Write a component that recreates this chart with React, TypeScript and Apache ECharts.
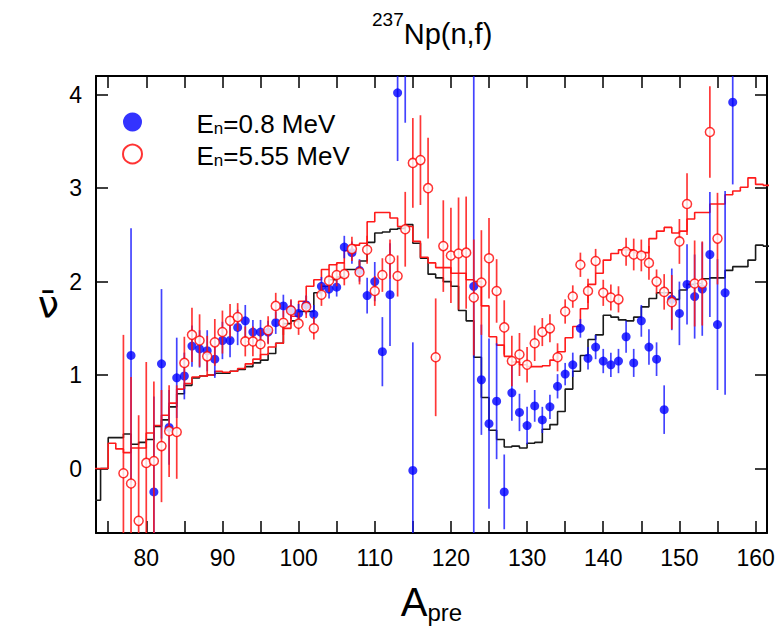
import { useEffect, useRef } from 'react';
import * as echarts from 'echarts';

// ---- axis ticks / labels ----
const X_MIN = 73.4;
const X_MAX = 161.5;
const Y_MIN = -0.69;
const Y_MAX = 4.2;
const xTickValues = [75, 80, 85, 90, 95, 100, 105, 110, 115, 120, 125, 130, 135, 140, 145, 150, 155, 160];
const xLabelValues = [80, 90, 100, 110, 120, 130, 140, 150, 160];
const yTickValues = [0, 1, 2, 3, 4];

// ---- calculated step curves: value held on [A, A+1) ----
const calcA = [
  73, 74, 75, 76, 77, 78, 79, 80, 81, 82, 83, 84, 85, 86, 87, 88, 89, 90, 91, 92,
  93, 94, 95, 96, 97, 98, 99, 100, 101, 102, 103, 104, 105, 106, 107, 108, 109, 110, 111, 112,
  113, 114, 115, 116, 117, 118, 119, 120, 121, 122, 123, 124, 125, 126, 127, 128, 129, 130, 131, 132,
  133, 134, 135, 136, 137, 138, 139, 140, 141, 142, 143, 144, 145, 146, 147, 148, 149, 150, 151, 152,
  153, 154, 155, 156, 157, 158, 159, 160, 161, 162,
];
const calcLow = [
  -0.34, 0.0, 0.33, 0.33, 0.37, 0.26, 0.28, 0.31, 0.45, 0.52,
  0.66, 0.80, 0.89, 0.97, 0.99, 1.00, 1.02, 1.02, 1.04, 1.06,
  1.09, 1.13, 1.16, 1.23, 1.34, 1.55, 1.58, 1.68, 1.68, 1.88,
  1.95, 2.02, 2.05, 2.13, 2.13, 2.22, 2.42, 2.52, 2.53, 2.56,
  2.57, 2.61, 2.41, 2.25, 2.08, 2.04, 2.00, 1.95, 1.69, 1.58,
  1.19, 0.76, 0.41, 0.31, 0.23, 0.24, 0.22, 0.27, 0.28, 0.42,
  0.47, 0.61, 0.85, 1.04, 1.21, 1.38, 1.43, 1.64, 1.62, 1.59,
  1.58, 1.62, 1.73, 1.82, 1.88, 1.88, 1.81, 1.91, 1.97, 1.98,
  2.03, 2.04, 2.04, 2.12, 2.16, 2.16, 2.23, 2.39, 2.38, 2.38,
];
const calcHigh = [
  0.0, 0.0, 0.27, 0.21, 0.17, 0.22, 0.22, 0.38, 0.46, 0.57,
  0.70, 0.85, 0.91, 0.98, 0.99, 1.00, 1.04, 1.03, 1.04, 1.07,
  1.12, 1.17, 1.22, 1.30, 1.34, 1.50, 1.63, 1.79, 1.95, 2.02,
  2.13, 2.18, 2.20, 2.33, 2.39, 2.41, 2.64, 2.74, 2.74, 2.68,
  2.59, 2.59, 2.43, 2.26, 2.20, 2.15, 2.15, 2.09, 2.09, 2.02,
  2.00, 1.74, 1.41, 1.32, 1.20, 1.14, 1.11, 1.09, 1.09, 1.10,
  1.16, 1.25, 1.40, 1.52, 1.71, 1.97, 2.09, 2.23, 2.30, 2.34,
  2.34, 2.31, 2.31, 2.46, 2.54, 2.58, 2.52, 2.54, 2.67, 2.74,
  2.74, 2.83, 2.83, 2.93, 2.97, 3.01, 3.11, 3.04, 3.03, 3.03,
];

// ---- measured, En = 0.8 MeV ----
const blueA = [
  78, 81, 82, 83, 84, 85, 86, 87, 88, 89,
  90, 91, 92, 93, 94, 95, 96, 97, 98, 99,
  100, 101, 102, 103, 104, 105, 106, 107, 108, 109,
  110, 111, 112, 113, 114, 115,
  123, 124, 125, 126, 127, 128, 129, 130, 131, 132,
  133, 134, 135, 136, 137, 138, 139, 140, 141, 142,
  143, 144, 145, 146, 147, 148, 149, 150, 151, 152,
  153, 154, 155, 156, 157,
];
const blueNu = [
  1.21, -0.25, 1.12, 0.44, 0.97, 0.99, 1.31, 1.28, 1.26, 1.17,
  1.37, 1.37, 1.51, 1.58, 1.46, 1.46, 1.46, 1.56, 1.74, 1.70,
  1.66, 1.75, 1.65, 1.95, 1.92, 1.94, 2.37, 2.31, 2.12, 1.85,
  2.00, 1.25, 1.86, 4.02, 4.5, -0.02,
  1.95, 0.95, 0.48, 0.72, -0.25, 0.81, 0.60, 0.46, 0.67, 0.52,
  0.66, 0.88, 1.01, 1.11, 1.50, 1.18, 1.30, 1.15, 1.11, 1.15,
  1.41, 1.13, 1.58, 1.30, 1.17, 0.63, 1.81, 1.66, 1.97, 1.84,
  1.92, 2.29, 1.54, 1.88, 3.92,
];
const blueErr = [
  1.36, 1.02, 0.80, 0.40, 0.43, 0.25, 0.22, 0.20, 0.22, 0.20,
  0.20, 0.18, 0.19, 0.17, 0.13, 0.13, 0.12, 0.12, 0.12, 0.10,
  0.10, 0.10, 0.10, 0.10, 0.10, 0.10, 0.12, 0.12, 0.12, 0.19,
  0.21, 0.37, 0.55, 0.73, 0.80, 1.37,
  3.0, 0.59, 0.91, 0.62, 0.40, 0.30, 0.20, 0.20, 0.17, 0.14,
  0.13, 0.13, 0.12, 0.13, 0.10, 0.12, 0.13, 0.13, 0.13, 0.13,
  0.17, 0.15, 0.17, 0.19, 0.18, 0.26, 0.33, 0.34, 0.43, 0.45,
  0.50, 0.67, 0.70, 1.09, 0.88,
];

// ---- measured, En = 5.55 MeV ----
const redA = [
  77, 78, 79, 80, 81, 82, 83, 84, 85, 86,
  87, 88, 89, 90, 91, 92, 93, 94, 95, 96,
  97, 98, 99, 100, 101, 102, 103, 104, 105, 106,
  107, 108, 109, 110, 111, 112, 113, 114, 115, 116,
  117, 118, 119, 120, 121, 122, 123, 124, 125, 126,
  127, 128, 129, 130, 131, 132, 133, 134, 135, 136,
  137, 138, 139, 140, 141, 142, 143, 144, 145, 146,
  147, 148, 149, 150, 151, 152, 153, 154, 155,
];
const redNu = [
  -0.05, -0.16, -0.56, 0.06, 0.08, 0.24, 0.40, 0.39, 1.13, 1.43,
  1.37, 1.20, 1.35, 1.46, 1.58, 1.62, 1.36, 1.36, 1.33, 1.48,
  1.74, 1.56, 1.69, 1.55, 1.73, 1.50, 1.86, 2.01, 2.07, 2.08,
  2.35, 2.10, 2.34, 1.90, 2.07, 2.24, 2.06, 2.56, 3.27, 3.30,
  3.00, 1.19, 2.38, 2.28, 2.30, 2.31, 1.83, 1.99, 2.25, 1.90,
  1.51, 1.15, 1.22, 1.11, 1.34, 1.46, 1.50, 1.19, 1.68, 1.84,
  2.18, 1.90, 2.22, 1.88, 1.83, 1.81, 2.32, 2.29, 2.28, 2.20,
  2.00, 1.89, 1.78, 2.43, 2.83, 1.98, 1.98, 3.60, 2.46,
];
const redErr = [
  1.48, 1.14, 1.13, 1.08, 0.85, 0.60, 0.49, 0.50, 0.28, 0.29,
  0.28, 0.22, 0.25, 0.23, 0.18, 0.15, 0.16, 0.16, 0.16, 0.15,
  0.14, 0.13, 0.12, 0.12, 0.12, 0.12, 0.12, 0.12, 0.12, 0.12,
  0.13, 0.13, 0.15, 0.16, 0.18, 0.21, 0.22, 0.40, 0.48, 0.48,
  0.54, 0.63, 0.49, 0.51, 0.60, 0.60, 0.62, 0.56, 0.43, 0.34,
  0.29, 0.27, 0.23, 0.19, 0.19, 0.15, 0.15, 0.15, 0.13, 0.12,
  0.13, 0.13, 0.13, 0.14, 0.14, 0.14, 0.15, 0.17, 0.17, 0.18,
  0.13, 0.19, 0.29, 0.24, 0.33, 0.46, 0.45, 0.49, 0.49,
];

const seriesLowName = 'En=0.8 MeV';
const seriesHighName = 'En=5.55 MeV';

const FONT = "'Liberation Sans', Arial, Helvetica, sans-serif";

function errRender(color: string) {
  return (params: any, api: any) => {
    const x = api.value(0);
    const lo = api.value(1);
    const hi = api.value(2);
    const p1 = api.coord([x, lo]);
    const p2 = api.coord([x, hi]);
    const cs = params.coordSys;
    const top = cs.y;
    const bottom = cs.y + cs.height;
    const clamp = (v: number) => Math.min(Math.max(v, top), bottom);
    return {
      type: 'line',
      shape: { x1: p1[0], y1: clamp(p1[1]), x2: p2[0], y2: clamp(p2[1]) },
      style: { stroke: color, lineWidth: 1.7 },
    };
  };
}

export default function App() {
  const ref = useRef<HTMLDivElement>(null);
  useEffect(() => {
    const chart = echarts.init(ref.current!, null, { renderer: 'svg' });

    const axisLineStyle = { color: '#000', width: 2 };
    const tickStyle = { color: '#000', width: 1.5 };

    const option: any = {
      animation: false,
      backgroundColor: '#fff',
      title: {
        text: '{s|237}{m|Np(n,f)}',
        left: 372,
        top: 10,
        padding: 0,
        textStyle: {
          fontWeight: 'normal',
          rich: {
            s: { fontSize: 19, fontFamily: FONT, fontWeight: 'normal', color: '#000', lineHeight: 19, verticalAlign: 'top' },
            m: { fontSize: 29, fontFamily: FONT, fontWeight: 'normal', color: '#000', lineHeight: 48 },
          },
        },
      },
      legend: {
        orient: 'vertical',
        left: 122,
        top: 107,
        padding: 0,
        itemWidth: 118,
        itemHeight: 19,
        itemGap: 2,
        selectedMode: false,
        data: [seriesLowName, seriesHighName],
        formatter: (name: string) => '{a|E}{s|n}{a|' + name.replace(/^En/, '') + '}',
        textStyle: {
          rich: {
            a: { fontSize: 26, fontFamily: FONT, color: '#000', lineHeight: 30, padding: [4, 0, 0, 0] },
            s: { fontSize: 17, fontFamily: FONT, color: '#000', lineHeight: 14, verticalAlign: 'bottom' },
          },
        },
      },
      grid: { left: 96, right: 9, top: 76, bottom: 99, containLabel: false, outerBoundsMode: 'none' },
      xAxis: [
        {
          type: 'value',
          min: X_MIN,
          max: X_MAX,
          position: 'bottom',
          axisLine: { show: true, onZero: false, lineStyle: axisLineStyle },
          axisTick: { show: true, inside: true, length: 12, lineStyle: tickStyle, customValues: xTickValues },
          axisLabel: { show: true, customValues: xLabelValues, fontSize: 23, fontFamily: FONT, color: '#000', margin: 13 },
          splitLine: { show: false },
          name: '{a|A}{s|pre}',
          nameLocation: 'middle',
          nameGap: 47,
          nameTextStyle: {
            rich: {
              a: { fontSize: 40, fontFamily: FONT, color: '#000', lineHeight: 44 },
              s: { fontSize: 24, fontFamily: FONT, color: '#000', lineHeight: 20, verticalAlign: 'bottom' },
            },
          },
        },
        {
          type: 'value',
          min: X_MIN,
          max: X_MAX,
          position: 'top',
          axisLine: { show: true, onZero: false, lineStyle: axisLineStyle },
          axisTick: { show: true, inside: true, length: 12, lineStyle: tickStyle, customValues: xTickValues },
          axisLabel: { show: false },
          splitLine: { show: false },
        },
      ],
      yAxis: [
        {
          type: 'value',
          min: Y_MIN,
          max: Y_MAX,
          position: 'left',
          axisLine: { show: true, onZero: false, lineStyle: axisLineStyle },
          axisTick: { show: true, inside: true, length: 12, lineStyle: tickStyle, customValues: yTickValues },
          axisLabel: { show: true, customValues: yTickValues, fontSize: 23, fontFamily: FONT, color: '#000', margin: 14 },
          splitLine: { show: false },
          name: 'ν\u0304',
          nameLocation: 'middle',
          nameRotate: 0,
          nameGap: 37,
          nameTextStyle: { fontSize: 38, fontFamily: "'DejaVu Sans', sans-serif", color: '#000', padding: [18, 0, 0, 0] },
        },
        {
          type: 'value',
          min: Y_MIN,
          max: Y_MAX,
          position: 'right',
          axisLine: { show: true, onZero: false, lineStyle: axisLineStyle },
          axisTick: { show: true, inside: true, length: 12, lineStyle: tickStyle, customValues: yTickValues },
          axisLabel: { show: false },
          splitLine: { show: false },
        },
      ],
      series: [
        {
          type: 'line',
          name: 'calc 0.8 MeV',
          step: 'end',
          showSymbol: false,
          symbol: 'none',
          clip: true,
          data: calcA.map((a, i) => [a, calcLow[i]]),
          lineStyle: { color: '#1a1a1a', width: 1.6 },
          silent: true,
          z: 2,
        },
        {
          type: 'line',
          name: 'calc 5.55 MeV',
          step: 'end',
          showSymbol: false,
          symbol: 'none',
          clip: true,
          data: calcA.map((a, i) => [a, calcHigh[i]]),
          lineStyle: { color: '#ff1a1a', width: 1.6 },
          silent: true,
          z: 2,
        },
        {
          type: 'custom',
          name: 'err 0.8',
          renderItem: errRender('rgba(20,20,255,0.8)'),
          data: blueA.map((a, i) => [a, blueNu[i] - blueErr[i], blueNu[i] + blueErr[i]]),
          encode: { x: 0, y: [1, 2] },
          clip: true,
          silent: true,
          z: 3,
        },
        {
          type: 'scatter',
          name: seriesLowName,
          symbol: 'circle',
          symbolSize: 9,
          data: blueA.map((a, i) => [a, blueNu[i]]),
          itemStyle: { color: '#0000ff' },
          clip: true,
          z: 4,
        },
        {
          type: 'custom',
          name: 'err 5.55',
          renderItem: errRender('rgba(255,20,20,0.85)'),
          data: redA.map((a, i) => [a, redNu[i] - redErr[i], redNu[i] + redErr[i]]),
          encode: { x: 0, y: [1, 2] },
          clip: true,
          silent: true,
          z: 5,
        },
        {
          type: 'scatter',
          name: seriesHighName,
          symbol: 'circle',
          symbolSize: 9,
          data: redA.map((a, i) => [a, redNu[i]]),
          itemStyle: { color: '#ffffff', borderColor: '#ff0000', borderWidth: 1.5 },
          clip: true,
          z: 6,
        },
      ],
    };

    chart.setOption(option);
    return () => chart.dispose();
  }, []);

  return (
    <div
      ref={ref}
      style={{ position: 'fixed', left: 0, top: 0, width: 776, height: 632, background: '#fff' }}
    />
  );
}
